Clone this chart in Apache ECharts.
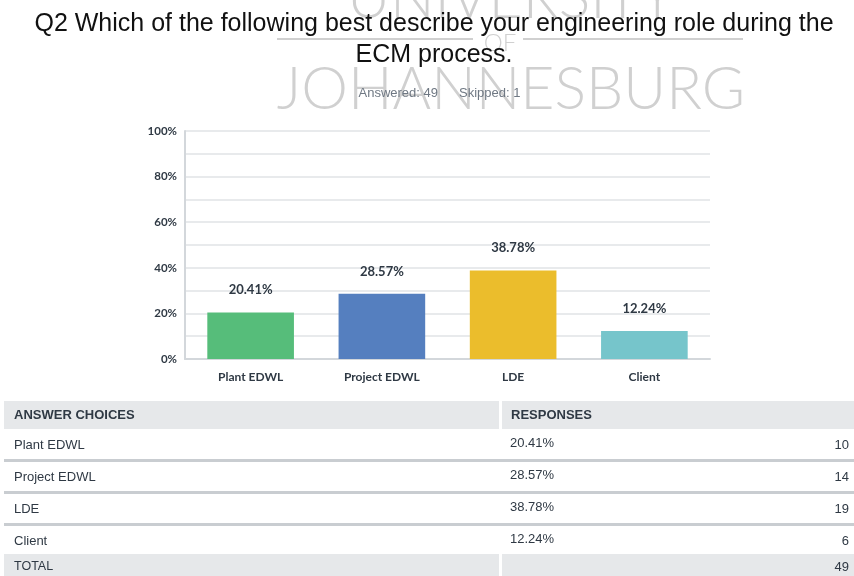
<!DOCTYPE html>
<html>
<head>
<meta charset="utf-8">
<script src="https://cdn.jsdelivr.net/npm/echarts@6/dist/echarts.min.js"></script>
<style>
  html, body { margin: 0; padding: 0; background: #fff; }
  #main { width: 854px; height: 576px; }
</style>
</head>
<body>
<div id="main"></div>
<script>
var categories = ['Plant EDWL', 'Project EDWL', 'LDE', 'Client'];
var percents = [20.41, 28.57, 38.78, 12.24];
var counts = [10, 14, 19, 6];
var barColors = ['#56bd7a', '#557fbf', '#ebbd2c', '#76c5cb'];
var yTicks = [0, 20, 40, 60, 80, 100];
var answered = 49;
var skipped = 1;

var chartDom = document.getElementById('main');
var myChart = echarts.init(chartDom, null, { renderer: 'canvas' });

var textDark = '#2f3944';
var tableFont = '"Liberation Sans", Arial, sans-serif';
var chartFont = 'Lato, "Noto Sans", sans-serif';
var wmColor = '#d0d0d0';

// watermark + titles
var graphics = [
  { type: 'text', z: 0, style: { text: 'UNIVERSITY', x: 511, y: -31, align: 'center', fill: wmColor, font: '300 59px Lato, sans-serif' } },
  { type: 'line', z: 0, shape: { x1: 277, y1: 39, x2: 473, y2: 39 }, style: { stroke: wmColor, lineWidth: 2 } },
  { type: 'line', z: 0, shape: { x1: 523, y1: 39, x2: 743, y2: 39 }, style: { stroke: wmColor, lineWidth: 2 } },
  { type: 'text', z: 0, style: { text: 'OF', x: 500, y: 31, align: 'center', fill: wmColor, font: '300 24px Lato, sans-serif' } },
  { type: 'text', z: 0, style: { text: 'JOHANNESBURG', x: 511, y: 60, align: 'center', fill: wmColor, font: '300 59px Lato, sans-serif' } },
  { type: 'text', z: 5, style: { text: 'Q2 Which of the following best describe your engineering role during the', x: 434, y: 12, align: 'center', fill: '#111', font: '25px "Liberation Sans", Arial, sans-serif' } },
  { type: 'text', z: 5, style: { text: 'ECM process.', x: 434, y: 43, align: 'center', fill: '#111', font: '25px "Liberation Sans", Arial, sans-serif' } },
  { type: 'text', z: 5, style: { text: 'Answered: ' + answered, x: 438, y: 93, align: 'right', verticalAlign: 'middle', fill: '#6f7883', font: '13px "Liberation Sans", Arial, sans-serif' } },
  { type: 'text', z: 5, style: { text: 'Skipped: ' + skipped, x: 459, y: 93, align: 'left', verticalAlign: 'middle', fill: '#6f7883', font: '13px "Liberation Sans", Arial, sans-serif' } }
];

// table built from the data arrays
var tableTop = 401;
var headH = 28;
var rowH = 32;
var splitX = 499;
graphics.push({ type: 'rect', shape: { x: 4, y: tableTop, width: splitX - 4, height: headH }, style: { fill: '#e6e8ea' } });
graphics.push({ type: 'rect', shape: { x: splitX + 3, y: tableTop, width: 854 - splitX - 3, height: headH }, style: { fill: '#e6e8ea' } });
graphics.push({ type: 'text', style: { text: 'ANSWER CHOICES', x: 14, y: tableTop + 14, verticalAlign: 'middle', fill: textDark, font: 'bold 13px ' + tableFont } });
graphics.push({ type: 'text', style: { text: 'RESPONSES', x: 511, y: tableTop + 14, verticalAlign: 'middle', fill: textDark, font: 'bold 13px ' + tableFont } });
categories.forEach(function (name, i) {
  var top = tableTop + headH + i * rowH;
  var cy = top + 16;
  graphics.push({ type: 'text', style: { text: name, x: 14, y: cy, verticalAlign: 'middle', fill: textDark, font: '13px ' + tableFont } });
  graphics.push({ type: 'text', style: { text: percents[i].toFixed(2) + '%', x: 510, y: cy - 2, verticalAlign: 'middle', fill: textDark, font: '13px ' + tableFont } });
  graphics.push({ type: 'text', style: { text: String(counts[i]), x: 849, y: cy, align: 'right', verticalAlign: 'middle', fill: textDark, font: '13px ' + tableFont } });
  if (i < categories.length - 1) {
    graphics.push({ type: 'rect', shape: { x: 4, y: top + rowH - 2, width: 850, height: 3 }, style: { fill: '#c9cdd1' } });
  }
});
var totalTop = tableTop + headH + categories.length * rowH - 3;
var total = counts.reduce(function (a, b) { return a + b; }, 0);
graphics.push({ type: 'rect', shape: { x: 4, y: totalTop, width: splitX - 4, height: 576 - totalTop }, style: { fill: '#e6e8ea' } });
graphics.push({ type: 'rect', shape: { x: splitX + 3, y: totalTop, width: 854 - splitX - 3, height: 576 - totalTop }, style: { fill: '#e6e8ea' } });
graphics.push({ type: 'text', style: { text: 'TOTAL', x: 14, y: totalTop + 13, verticalAlign: 'middle', fill: textDark, font: '12.5px ' + tableFont } });
graphics.push({ type: 'text', style: { text: String(total), x: 849, y: totalTop + 13, align: 'right', verticalAlign: 'middle', fill: textDark, font: '13px ' + tableFont } });

var option = {
  animation: false,
  backgroundColor: '#fff',
  textStyle: { fontFamily: chartFont },
  grid: { left: 185, right: 144, top: 131, bottom: 217, containLabel: false },
  xAxis: {
    type: 'category',
    data: categories,
    axisLine: { lineStyle: { color: '#d3d7db', width: 2 } },
    axisTick: { show: false },
    axisLabel: { color: textDark, fontWeight: 'bold', fontSize: 12, margin: 12, fontFamily: chartFont }
  },
  yAxis: {
    type: 'value',
    min: 0,
    max: 100,
    interval: 10,
    axisLine: { show: true, lineStyle: { color: '#d3d7db', width: 2 } },
    axisTick: { show: false },
    splitLine: { lineStyle: { color: '#e8eaec', width: 2 } },
    axisLabel: {
      color: textDark, fontWeight: 'bold', fontSize: 11.5, margin: 8, fontFamily: chartFont,
      formatter: function (v) { return yTicks.indexOf(v) >= 0 ? v + '%' : ''; }
    }
  },
  series: [{
    type: 'bar',
    data: percents.map(function (v, i) { return { value: v, itemStyle: { color: barColors[i] } }; }),
    barWidth: '66%',
    label: {
      show: true,
      position: 'top',
      distance: 16,
      color: textDark,
      fontWeight: 'bold',
      fontSize: 13,
      fontFamily: chartFont,
      formatter: function (p) { return p.value.toFixed(2) + '%'; }
    }
  }],
  graphic: graphics
};

myChart.setOption(option);
</script>
</body>
</html>
